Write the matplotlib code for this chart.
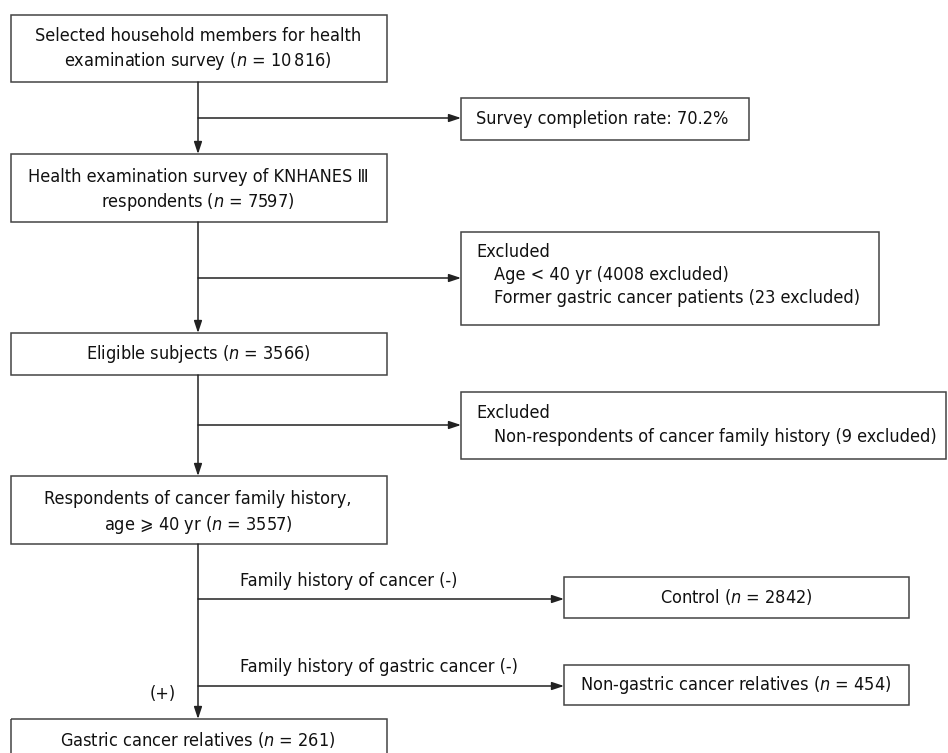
import matplotlib.pyplot as plt
from matplotlib.patches import Rectangle, FancyArrowPatch

# counts from the flow chart
n_selected = 10816
completion_rate = 70.2
n_knhanes = 7597
n_age_excl = 4008
n_former_excl = 23
n_eligible = 3566
n_nonresp_excl = 9
n_history = 3557
n_control = 2842
n_nongastric = 454
n_gastric = 261

plt.rcParams['font.family'] = ['DejaVu Sans']
plt.rcParams['font.stretch'] = 'condensed'
plt.rcParams['mathtext.fontset'] = 'custom'
plt.rcParams['mathtext.it'] = 'DejaVu Sans:italic:stretch=condensed'
plt.rcParams['mathtext.rm'] = 'DejaVu Sans:stretch=condensed'

FS = 13
LINE = '#222222'
EDGE = '#444444'


def nn(v):
    s = str(v)
    if len(s) > 4:
        s = s[:-3] + '\u2009' + s[-3:]
    return r'($n$ = ' + s + ')'


fig = plt.figure(figsize=(9.48, 7.53), dpi=100)
ax = fig.add_axes([0, 0, 1, 1])
ax.set_xlim(0, 948)
ax.set_ylim(753, 0)
ax.axis('off')


def box(x0, y0, x1, y1):
    ax.add_patch(Rectangle((x0, y0), x1 - x0, y1 - y0, fill=False,
                           ec=EDGE, lw=1.1))


def arrow(x0, y0, x1, y1):
    ax.add_patch(FancyArrowPatch((x0, y0), (x1, y1),
                                 arrowstyle='-|>,head_length=0.6,head_width=0.2',
                                 mutation_scale=12, color=LINE, lw=1.1,
                                 shrinkA=0, shrinkB=0))


def ctext(x, y, s):
    ax.text(x, y, s, ha='center', va='center', fontsize=FS, color='#111111')


def ltext(x, y, s):
    ax.text(x, y, s, ha='left', va='center', fontsize=FS, color='#111111')


xc = 198

# main column
box(11, 15, 387, 82)
ctext(xc, 36, 'Selected household members for health')
ctext(xc, 61, 'examination survey ' + nn(n_selected))

box(11, 154, 387, 222)
ctext(xc, 177, 'Health examination survey of KNHANES \u2162')
ctext(xc, 202, 'respondents ' + nn(n_knhanes))

box(11, 333, 387, 375)
ctext(xc, 354, 'Eligible subjects ' + nn(n_eligible))

box(11, 476, 387, 544)
ctext(xc, 499, 'Respondents of cancer family history,')
ctext(xc, 525, 'age \u2a7e 40 yr ' + nn(n_history))

box(11, 719, 387, 770)
ctext(xc, 740, 'Gastric cancer relatives ' + nn(n_gastric))

arrow(xc, 82, xc, 154)
arrow(xc, 222, xc, 333)
arrow(xc, 375, xc, 476)
arrow(xc, 544, xc, 719)

# side boxes
box(461, 98, 749, 140)
ltext(476, 119, 'Survey completion rate: %.1f%%' % completion_rate)
arrow(xc, 118, 461, 118)

box(461, 232, 879, 325)
ltext(476, 252, 'Excluded')
ltext(494, 275, 'Age < 40 yr (%d excluded)' % n_age_excl)
ltext(494, 298, 'Former gastric cancer patients (%d excluded)' % n_former_excl)
arrow(xc, 278, 461, 278)

box(461, 392, 946, 459)
ltext(476, 413, 'Excluded')
ltext(494, 437, 'Non-respondents of cancer family history (%d excluded)' % n_nonresp_excl)
arrow(xc, 425, 461, 425)

box(564, 577, 909, 618)
ctext(736, 597, 'Control ' + nn(n_control))
ltext(240, 581, 'Family history of cancer (-)')
arrow(xc, 599, 564, 599)

box(564, 665, 909, 705)
ctext(736, 685, 'Non-gastric cancer relatives ' + nn(n_nongastric))
ltext(240, 667, 'Family history of gastric cancer (-)')
arrow(xc, 686, 564, 686)

ctext(163, 694, '(+)')

fig.savefig('out.png', dpi=100)
